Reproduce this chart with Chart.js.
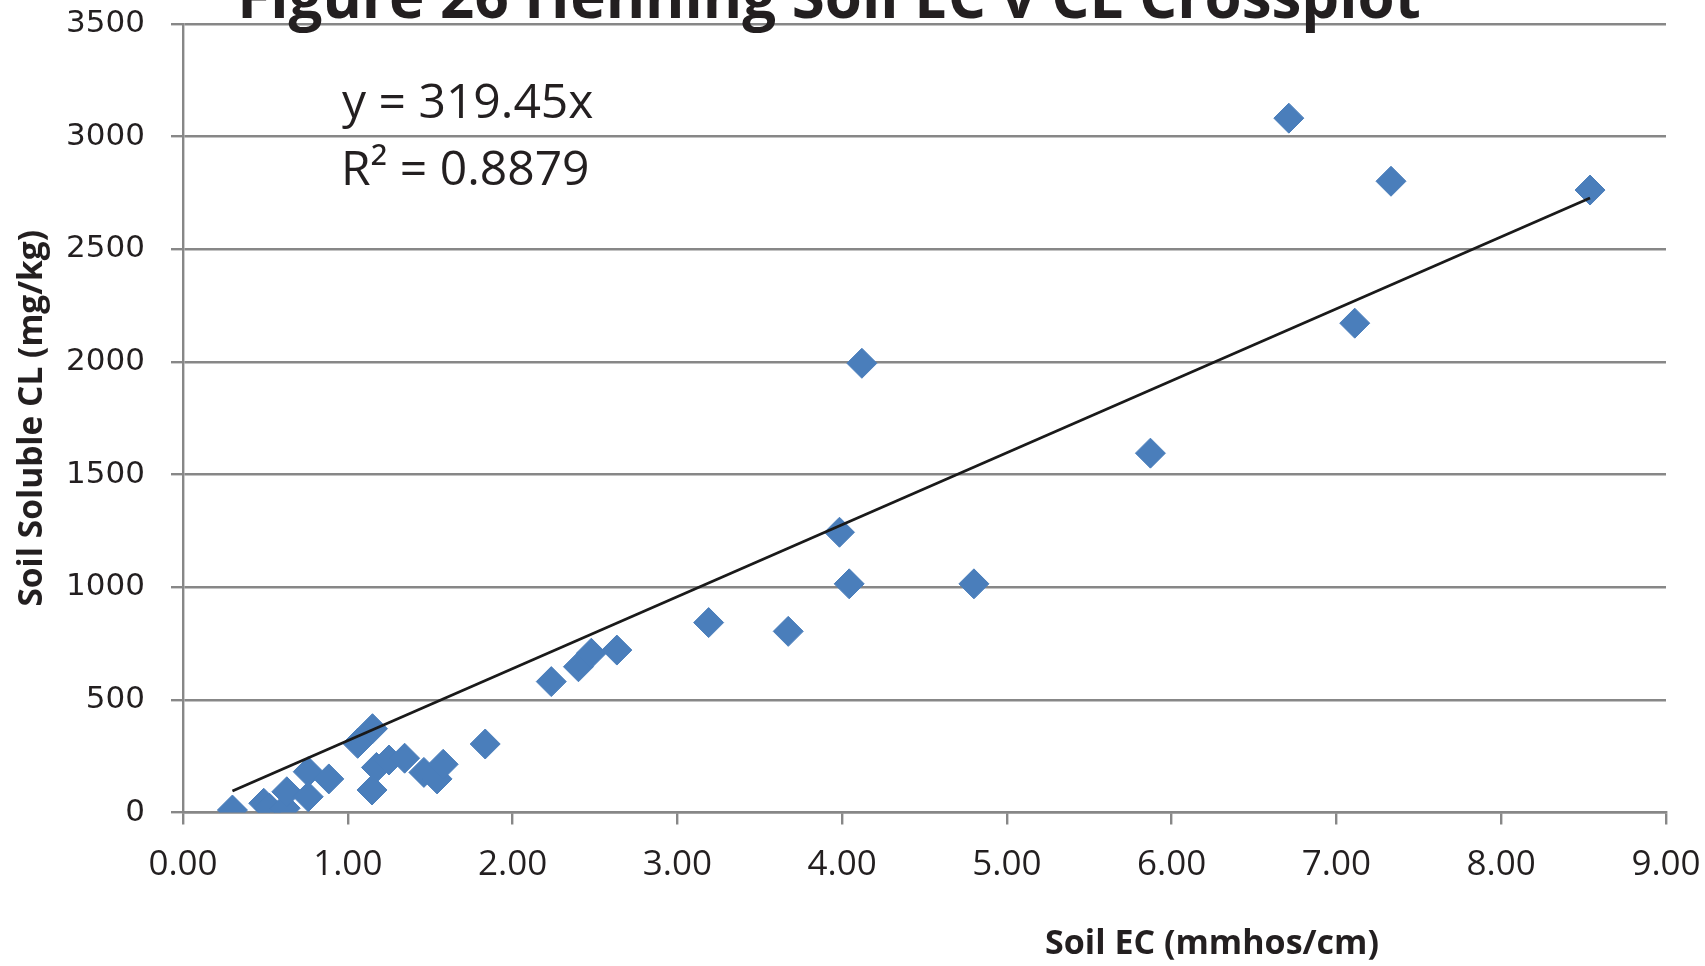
<!DOCTYPE html>
<html>
<head>
<meta charset="utf-8">
<script src="https://cdn.jsdelivr.net/npm/chart.js@4.4.1/dist/chart.umd.min.js"></script>
<style>
  body { margin: 0; background: #fff; }
  #wrap { width: 1705px; height: 966px; }
</style>
</head>
<body>
<div id="wrap"><canvas id="grafico"></canvas></div>
<script>
// Dados
const soilEC = [0.30, 0.49, 0.525, 0.62, 0.63, 0.76, 0.76, 0.885, 1.06, 1.15, 1.147, 1.174, 1.25, 1.345, 1.462, 1.542, 1.579, 1.834,
  2.235, 2.40, 2.478, 2.633, 3.19, 3.673, 3.984, 4.043, 4.12, 4.80, 5.871, 6.711, 7.111, 7.331, 8.539];
const soilCL = [11, 41, 19, 19, 92, 181, 70, 149, 307, 372, 100, 200, 233, 241, 178, 149, 214, 304,
  581, 647, 707, 721, 843, 804, 1244, 1015, 1994, 1015, 1595, 3082, 2172, 2802, 2763];
const xTicks = [0, 1, 2, 3, 4, 5, 6, 7, 8, 9];
const yTicks = [0, 500, 1000, 1500, 2000, 2500, 3000, 3500];
const trendSlope = 319.45;
const rSquared = 0.8879;

const chartTitle = 'Figure 26 Henning Soil EC v CL Crossplot';
const xTitle = 'Soil EC (mmhos/cm)';
const yTitle = 'Soil Soluble CL (mg/kg)';

const pontos = soilEC.map((x, i) => ({ x: x, y: soilCL[i] }));
const xMin = Math.min(...soilEC);
const xMax = Math.max(...soilEC);
const tendencia = [{ x: xMin, y: trendSlope * xMin }, { x: xMax, y: trendSlope * xMax }];

const gridCor = '#878787';
const textoCor = '#231f20';

// textos soltos (título cortado, título do eixo x, equação)
const textosPlugin = {
  id: 'textos',
  afterDraw(chart) {
    const ctx = chart.ctx;
    ctx.save();
    ctx.fillStyle = textoCor;
    ctx.textBaseline = 'alphabetic';

    ctx.textAlign = 'center';
    ctx.font = 'bold 60px "Open Sans"';
    ctx.fillText(chartTitle, 829, 18);

    ctx.font = 'bold 34px "Open Sans"';
    ctx.textBaseline = 'middle';
    ctx.fillText(xTitle, 1212, 944);

    ctx.textAlign = 'left';
    ctx.textBaseline = 'alphabetic';
    ctx.font = '48px "Open Sans"';
    ctx.fillText('y = ' + trendSlope + 'x', 342, 118);
    ctx.fillText('R² = ' + rSquared, 341, 185);
    ctx.restore();
  }
};

const ctx = document.getElementById('grafico').getContext('2d');
new Chart(ctx, {
  type: 'scatter',
  data: {
    datasets: [
      {
        type: 'line',
        data: tendencia,
        borderColor: '#1a1a1a',
        borderWidth: 2.8,
        pointRadius: 0,
        fill: false,
        order: 0
      },
      {
        data: pontos,
        pointStyle: 'rectRot',
        pointRadius: 15,
        backgroundColor: '#4a7ebb',
        borderColor: '#4a7ebb',
        borderWidth: 1,
        order: 1
      }
    ]
  },
  options: {
    responsive: true,
    maintainAspectRatio: false,
    animation: false,
    layout: { padding: { top: 24, right: 39, left: 0, bottom: 0 } },
    plugins: {
      legend: { display: false },
      tooltip: { enabled: false }
    },
    scales: {
      x: {
        type: 'linear',
        min: 0,
        max: 9,
        afterBuildTicks: (scale) => { scale.ticks = xTicks.map(v => ({ value: v })); },
        afterFit: (scale) => {
          scale.height = 153.5;
          scale.paddingLeft = 0;
          scale.paddingRight = 0;
        },
        ticks: {
          callback: (v) => Number(v).toFixed(2),
          color: textoCor,
          font: { family: 'Open Sans', size: 35 },
          padding: 20,
          maxRotation: 0
        },
        grid: {
          drawOnChartArea: false,
          drawTicks: true,
          tickLength: 12,
          color: gridCor,
          lineWidth: 2.4
        },
        border: { color: gridCor, width: 2.4 }
      },
      y: {
        min: 0,
        max: 3500,
        afterBuildTicks: (scale) => { scale.ticks = yTicks.map(v => ({ value: v })); },
        afterFit: (scale) => {
          scale.width = 183;
          scale.paddingTop = 0;
          scale.paddingBottom = 0;
        },
        ticks: {
          callback: (v) => String(v),
          color: textoCor,
          font: { family: 'DejaVu Sans', size: 31 },
          padding: 26
        },
        grid: {
          drawTicks: true,
          tickLength: 12,
          color: gridCor,
          lineWidth: 2.4
        },
        border: { color: gridCor, width: 2.4 },
        title: {
          display: true,
          text: yTitle,
          color: textoCor,
          font: { family: 'Open Sans', size: 33.5, weight: 'bold' },
          padding: { top: 12, bottom: 0 }
        }
      }
    }
  },
  plugins: [textosPlugin]
});
</script>
</body>
</html>
